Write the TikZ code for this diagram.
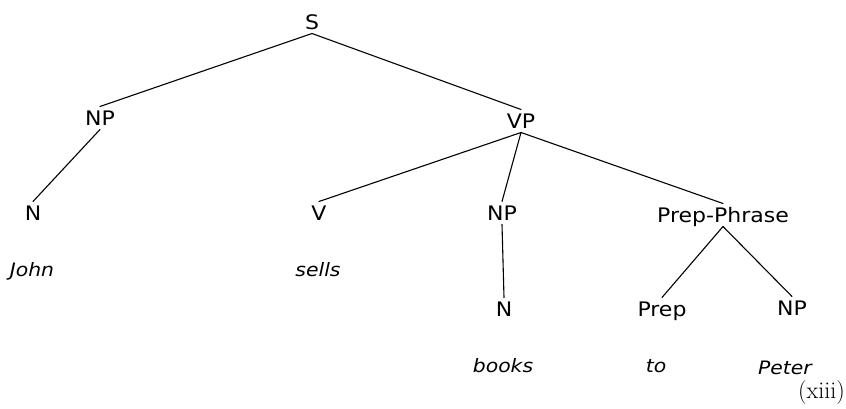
\documentclass[tikz,border=0pt]{standalone}
\usepackage{fontspec}
\setmainfont{DejaVu Sans}[FakeStretch=1.1]
\newfontfamily\lmserif{Latin Modern Roman}
\begin{document}
\begin{tikzpicture}[x=1pt,y=-1pt,
  cat/.style={font=\fontsize{20}{24}\selectfont, text height=14.6pt, text depth=0pt, inner sep=4pt},
  word/.style={font=\fontsize{18.5}{22}\selectfont\itshape, inner sep=2pt},
  edge/.style={line width=1.1pt, line cap=round}]
\useasboundingbox (0,0) rectangle (846,409);
% categories
\node[cat] (S)   at (312,22)  {S};
\node[cat] (NPa) at (100,118) {NP};
\node[cat] (VP)  at (521,121) {VP};
\node[cat] (Na)  at (33,213)  {N};
\node[cat] (V)   at (319,213) {V};
\node[cat] (NPb) at (502,213) {NP};
\node[cat] (PP)  at (723,215) {Prep-Phrase};
\node[cat] (Nb)  at (504,309) {N};
\node[cat] (Prep) at (662,309) {Prep};
\node[cat] (NPc) at (792,308) {NP};
% words
\node[word] (john)  at (32,271)  {John};
\node[word] (sells) at (318,270) {sells};
\node[word] (books) at (503,366) {books};
\node[word] (to)    at (656,366) {to};
\node[word] (peter) at (785,368) {Peter};
\node[font=\lmserif\fontsize{24}{28}\selectfont, inner sep=0pt, anchor=east] (num) at (845,393) {(xiii)};
% connectors
\draw[edge] (S.south) -- (NPa.north);
\draw[edge] (S.south) -- (VP.north);
\draw[edge] (NPa.south) -- (Na.north);
\draw[edge] (VP.south) -- (V.north);
\draw[edge] (VP.south) -- (NPb.north);
\draw[edge] (VP.south) -- (PP.north);
\draw[edge] (NPb.south) -- (Nb.north);
\draw[edge] (PP.south) -- (Prep.north);
\draw[edge] (PP.south) -- (NPc.north);
\end{tikzpicture}
\end{document}
